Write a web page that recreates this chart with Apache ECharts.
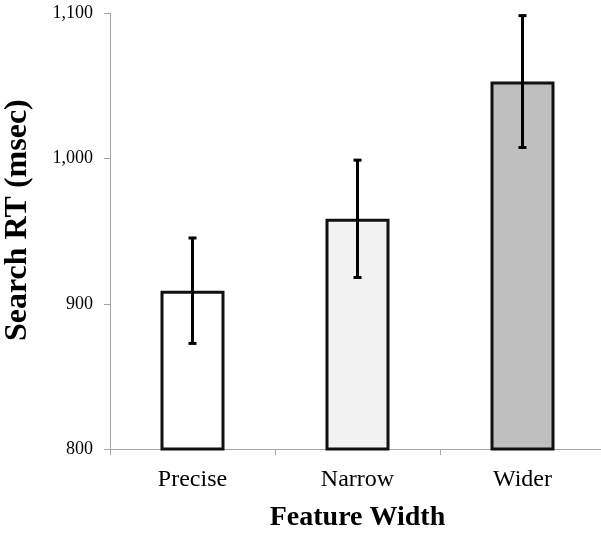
<!DOCTYPE html>
<html>
<head>
<meta charset="utf-8">
<script src="https://cdn.jsdelivr.net/npm/echarts@6/dist/echarts.min.js"></script>
<style>html,body{margin:0;padding:0;background:#fff}#c{width:601px;height:533px}</style>
</head>
<body>
<div id="c"></div>
<script>
const categories = ['Precise', 'Narrow', 'Wider'];
const meanRT = [909, 958.5, 1053];
const errorRT = [36.3, 40.4, 45.4];
const yTicks = [800, 900, 1000, 1100];

const barColors = ['#ffffff', '#f2f2f2', '#bfbfbf'];
const font = '"Liberation Serif", "Times New Roman", serif';

const chart = echarts.init(document.getElementById('c'), null, {renderer: 'canvas'});
const errData = categories.map((c, i) => [i, meanRT[i] - errorRT[i], meanRT[i] + errorRT[i]]);

chart.setOption({
  animation: false,
  backgroundColor: '#ffffff',
  grid: {left: 110, top: 13.3, width: 495, bottom: 84, containLabel: false, outerBoundsMode: 'none'},
  xAxis: {
    type: 'category',
    data: categories,
    name: 'Feature Width',
    nameLocation: 'middle',
    nameGap: 55,
    nameTextStyle: {fontFamily: font, fontSize: 28, fontWeight: 'bold', color: '#000'},
    axisLine: {show: true, lineStyle: {color: '#a6a6a6', width: 1}},
    axisTick: {show: true, length: 6, lineStyle: {color: '#a6a6a6'}},
    axisLabel: {fontFamily: font, fontSize: 24, color: '#000', margin: 19},
    splitLine: {show: false}
  },
  yAxis: {
    type: 'value',
    min: yTicks[0],
    max: yTicks[yTicks.length - 1],
    interval: 100,
    name: 'Search RT (msec)',
    nameLocation: 'middle',
    nameGap: 76,
    nameTextStyle: {fontFamily: font, fontSize: 32, fontWeight: 'bold', color: '#000', padding: [0, 0, 0, 22]},
    axisLine: {show: true, lineStyle: {color: '#a6a6a6', width: 1}},
    axisTick: {show: true, inside: false, length: 6, lineStyle: {color: '#a6a6a6'}},
    axisLabel: {
      fontFamily: font, fontSize: 18, color: '#000', margin: 17,
      formatter: v => v.toLocaleString('en-US')
    },
    splitLine: {show: false}
  },
  series: [
    {
      type: 'bar',
      data: meanRT.map((v, i) => ({value: v, itemStyle: {color: barColors[i]}})),
      barWidth: 64,
      itemStyle: {borderColor: '#111', borderWidth: 3},
      z: 2
    },
    {
      type: 'custom',
      data: errData,
      z: 5,
      renderItem: function (params, api) {
        const x = api.value(0);
        const lo = api.coord([x, api.value(1)]);
        const hi = api.coord([x, api.value(2)]);
        const cap = 4;
        const st = {stroke: '#000', lineWidth: 3};
        return {
          type: 'group',
          children: [
            {type: 'line', shape: {x1: lo[0], y1: lo[1], x2: hi[0], y2: hi[1]}, style: st},
            {type: 'line', shape: {x1: lo[0] - cap, y1: lo[1], x2: lo[0] + cap, y2: lo[1]}, style: st},
            {type: 'line', shape: {x1: hi[0] - cap, y1: hi[1], x2: hi[0] + cap, y2: hi[1]}, style: st}
          ]
        };
      }
    }
  ]
});
</script>
</body>
</html>
